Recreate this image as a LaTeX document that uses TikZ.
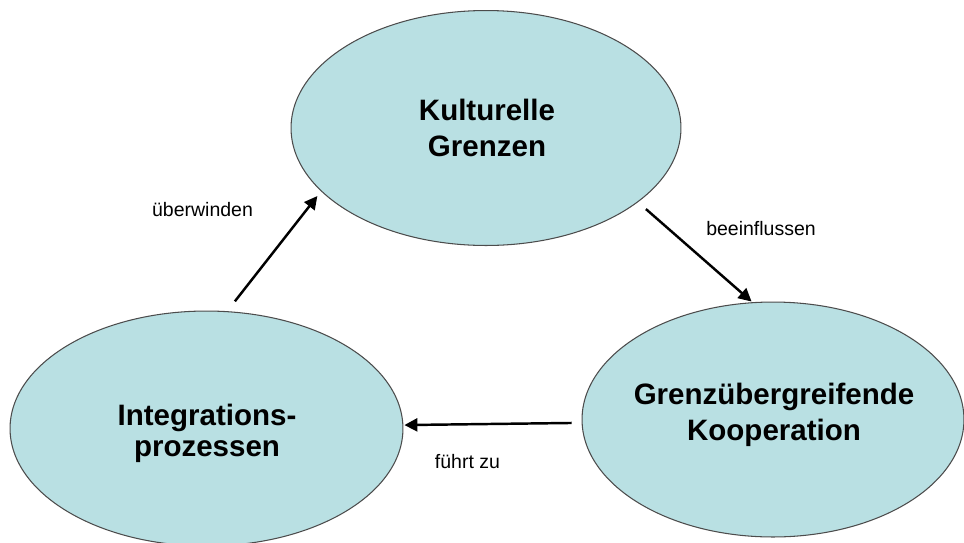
\documentclass[tikz,border=0pt]{standalone}
\usepackage{fontspec}
\setmainfont{Liberation Sans}
\usepackage{tikz}
\usetikzlibrary{arrows.meta}
\usetikzlibrary{shapes.geometric}
\definecolor{cellfill}{RGB}{185,224,227}

\begin{document}
\begin{tikzpicture}[x=0.02cm,y=-0.02cm,
  ell/.style={draw=black!70,line width=0.6pt,fill=cellfill,ellipse,inner sep=0pt,minimum height=4.7cm},
  ttl/.style={align=center,inner sep=0pt,font=\fontsize{16.8}{20.3}\selectfont\bfseries},
  lbl/.style={anchor=base,inner sep=0pt,font=\fontsize{11.1}{13}\selectfont},
  arr/.style={-{Triangle[length=0.26cm,width=0.26cm]},line width=1.4pt}]
  \useasboundingbox (0,0) rectangle (964,542);
  \node[ell,minimum width=7.8cm] (kult) at (486,128){};
  \node[ell,minimum width=7.86cm] (int) at (206.5,428.5){};
  \node[ell,minimum width=7.64cm] (koop) at (773,419.5){};

  \node[ttl] (kultT) at (487,128.2){Kulturelle\\Grenzen};
  \node[ttl,font=\fontsize{16.8}{17.6}\selectfont\bfseries] (intT) at (207,432.9){Integrations-\\prozessen};
  \node[ttl] (koopT) at (774,414.9){Grenzübergreifende\\Kooperation};

  \node[lbl] (ueb) at (202.5,216){überwinden};
  \node[lbl] (bee) at (761,235){beeinflussen};
  \node[lbl] (fuehrt) at (467.5,468){führt zu};

  \draw[arr,shorten <=0.25cm,shorten >=0.12cm](int.80)--(kult.201.9);
  \draw[arr,shorten <=0.21cm,shorten >=0.02cm](kult.334.5)--(koop.100.7);
  \draw[arr,shorten <=0.2cm,shorten >=0.02cm](koop.181.65)--(int.1);
\end{tikzpicture}
\end{document}
